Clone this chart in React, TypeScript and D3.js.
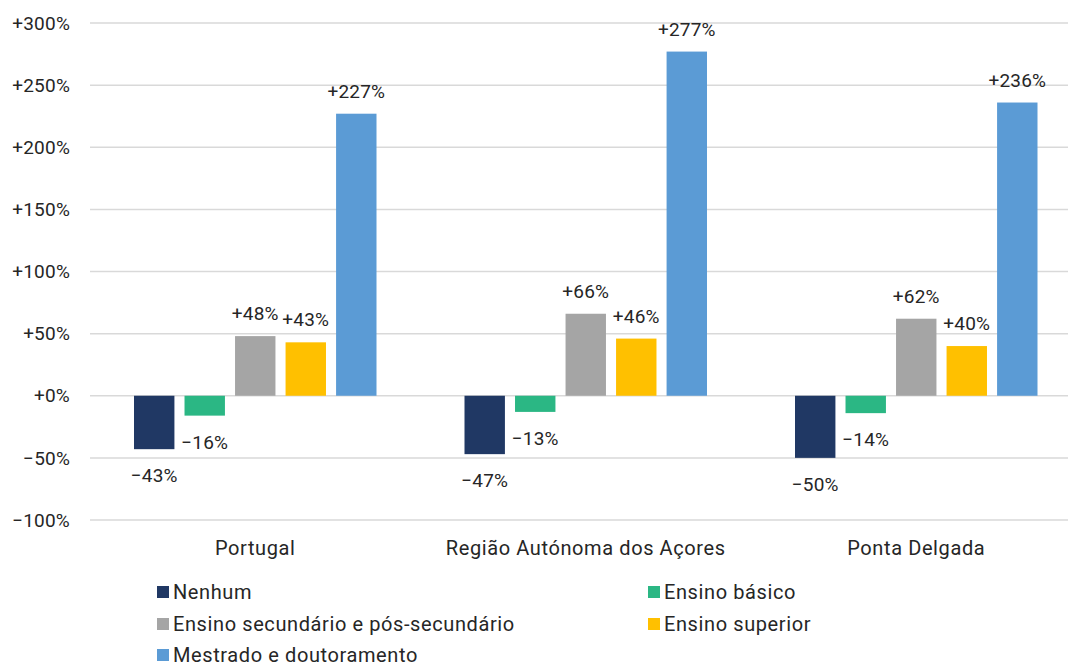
import React from 'react';
import * as d3 from 'd3';

const categories = ['Portugal', 'Região Autónoma dos Açores', 'Ponta Delgada'];
const seriesNames = [
  'Nenhum',
  'Ensino básico',
  'Ensino secundário e pós-secundário',
  'Ensino superior',
  'Mestrado e doutoramento',
];
const seriesColors = ['#203864', '#2BB784', '#A5A5A5', '#FFC000', '#5B9BD5'];
// values in %, one array per category, in series order
const portugal = [-43, -16, 48, 43, 227];
const acores = [-47, -13, 66, 46, 277];
const pontaDelgada = [-50, -14, 62, 40, 236];
const values = [portugal, acores, pontaDelgada];
const yTicks = [-100, -50, 0, 50, 100, 150, 200, 250, 300];

const W = 1068;
const H = 666;
const FONT = 'Roboto, "DejaVu Sans", sans-serif';
const TEXT = '#262626';

function fmt(v: number) {
  return (v >= 0 ? '+' : '\u2212') + Math.abs(v) + '%';
}

export default function App() {
  const x0 = d3.scaleBand<string>().domain(categories).range([90, 1081.5]).padding(0);
  const x1 = d3
    .scaleBand<string>()
    .domain(seriesNames)
    .range([44, x0.bandwidth() - 44])
    .paddingInner(0.2);
  const y = d3.scaleLinear().domain([-100, 300]).range([520, 23]);

  // legend layout: two columns, three rows
  const legendX = [157, 648];
  const legendY = [592, 624, 655];

  return (
    <svg
      width={W}
      height={H}
      style={{ position: 'absolute', left: 0, top: 0, background: '#fff' }}
      fontFamily={FONT}
    >
      {/* grid + y labels */}
      {yTicks.map((t) => (
        <g key={t}>
          <line x1={90} x2={W} y1={y(t)} y2={y(t)} stroke="#d9d9d9" strokeWidth={1.5} />
          <text
            x={70}
            y={y(t)}
            dy="0.35em"
            textAnchor="end"
            fontSize={19}
            letterSpacing={0.2}
            fill={TEXT}
          >
            {fmt(t)}
          </text>
        </g>
      ))}

      {/* bars */}
      {categories.map((c, ci) => (
        <g key={c} transform={`translate(${x0(c)},0)`}>
          {seriesNames.map((s, si) => {
            const v = values[ci][si];
            const bx = x1(s) as number;
            const top = Math.min(y(v), y(0));
            const h = Math.abs(y(v) - y(0));
            return (
              <g key={s}>
                <rect
                  x={bx}
                  y={top}
                  width={x1.bandwidth()}
                  height={h}
                  fill={seriesColors[si]}
                />
                <text
                  x={bx + x1.bandwidth() / 2}
                  y={v >= 0 ? y(v) - 16 : y(v) + 33}
                  textAnchor="middle"
                  fontSize={19}
                  letterSpacing={0.2}
                  fill={TEXT}
                >
                  {fmt(v)}
                </text>
              </g>
            );
          })}
          <text
            x={x0.bandwidth() / 2}
            y={555}
            textAnchor="middle"
            fontSize={20}
            letterSpacing={0.6}
            fill={TEXT}
          >
            {c}
          </text>
        </g>
      ))}

      {/* legend */}
      {seriesNames.map((s, i) => {
        const lx = legendX[i % 2];
        const ly = legendY[Math.floor(i / 2)];
        return (
          <g key={s}>
            <rect x={lx} y={ly - 6} width={12} height={12} fill={seriesColors[i]} />
            <text
              x={lx + 16}
              y={ly}
              dy="0.35em"
              fontSize={20}
              letterSpacing={0.6}
              fill={TEXT}
            >
              {s}
            </text>
          </g>
        );
      })}
    </svg>
  );
}
